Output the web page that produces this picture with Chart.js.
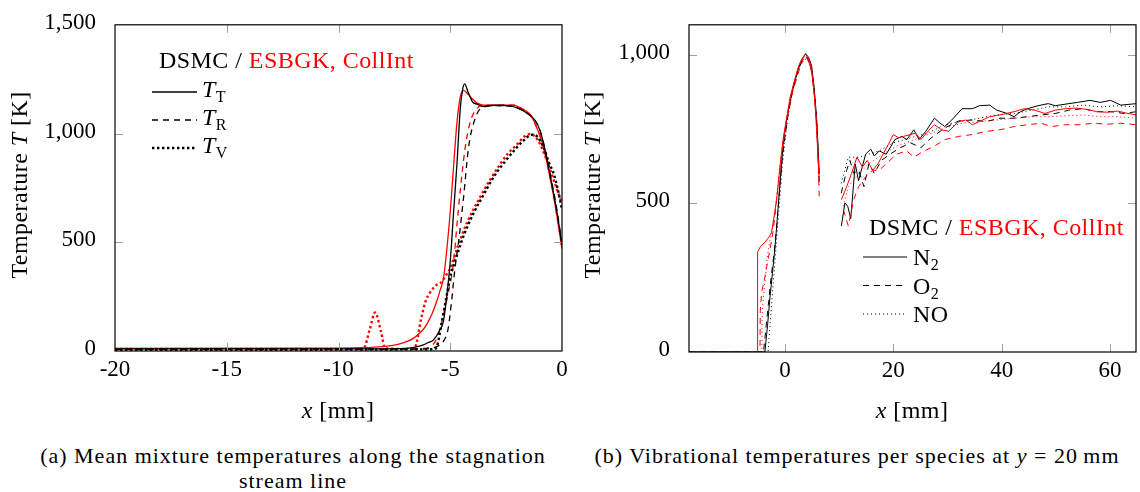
<!DOCTYPE html>
<html>
<head>
<meta charset="utf-8">
<script src="https://cdn.jsdelivr.net/npm/chart.js@4.4.1/dist/chart.umd.min.js"></script>
<style>
  body { margin: 0; background: #fff; width: 1140px; height: 492px; overflow: hidden; position: relative; font-family: "Liberation Serif", serif; }
  #left { position: absolute; left: 0; top: 0; }
  #right { position: absolute; left: 575px; top: 0; }
  .cap { position: absolute; top: 443px; transform: translateX(-50%); font-size: 22px; letter-spacing: 1px; line-height: 25px; text-align: center; white-space: nowrap; color: #000; }
</style>
</head>
<body>
<canvas id="left" width="575" height="430"></canvas>
<canvas id="right" width="565" height="430"></canvas>
<div class="cap" style="left:293px">(a) Mean mixture temperatures along the stagnation<br>stream line</div>
<div class="cap" style="left:857px">(b) Vibrational temperatures per species at <i>y</i> = 20&#8201;mm</div>
<script>
// ---- (a) mean mixture temperatures along the stagnation line ----
const leftXTicks = [-20, -15, -10, -5, 0];
const leftYTicks = [0, 500, 1000, 1500];

const ttDsmcX = [-20, -8, -7, -6.5, -6.2, -6, -5.76, -5.5, -5.3, -5.15, -5, -4.85, -4.7, -4.55, -4.45, -4.36, -4.2, -4, -3.8, -3.58, -3, -2.46, -2, -1.56, -1.2, -0.97, -0.75, -0.52, -0.22, 0];
const ttDsmcY = [10, 10, 12, 19, 28, 38, 50, 90, 140, 260, 410, 640, 860, 1117, 1200, 1228, 1190, 1145, 1135, 1125, 1130, 1128, 1118, 1093, 1060, 1010, 920, 802, 635, 486];
const ttEsX = [-20, -10, -9, -8.5, -7.83, -7.3, -6.9, -6.65, -6.4, -6.2, -6.04, -5.8, -5.6, -5.45, -5.3, -5.15, -5, -4.85, -4.7, -4.55, -4.4, -4.2, -4.03, -3.8, -3.52, -2.8, -2.18, -1.8, -1.42, -1.1, -0.82, -0.6, -0.37, -0.18, 0];
const ttEsY = [12, 13, 15, 17, 22, 32, 45, 58, 80, 100, 125, 175, 230, 280, 335, 470, 640, 850, 1050, 1170, 1198, 1180, 1161, 1140, 1131, 1130, 1131, 1115, 1086, 1020, 936, 830, 710, 590, 470];
const trDsmcX = [-20, -6.2, -5.9, -5.6, -5.3, -5.1, -4.95, -4.8, -4.63, -4.4, -4.18, -3.88, -3.58, -3, -2.46, -2, -1.56, -1.2, -0.97, -0.75, -0.52, -0.22, 0];
const trDsmcY = [8, 9, 12, 20, 45, 100, 220, 370, 500, 710, 937, 1071, 1119, 1128, 1127, 1118, 1093, 1060, 1010, 925, 810, 645, 490];
const trEsX = [-20, -7, -6.3, -5.9, -5.6, -5.37, -5.1, -4.85, -4.7, -4.55, -4.33, -4.1, -3.8, -3.5, -2.8, -2.18, -1.8, -1.42, -1.1, -0.82, -0.6, -0.37, -0.18, 0];
const trEsY = [10, 10, 12, 20, 58, 140, 260, 410, 580, 740, 936, 1055, 1116, 1131, 1130, 1131, 1115, 1086, 1020, 936, 830, 710, 590, 470];
const tvDsmcX = [-20, -5.75, -5.6, -5.4, -5.15, -4.95, -4.7, -4.4, -3.95, -3.5, -3.06, -2.6, -2.16, -1.75, -1.34, -1.1, -0.82, -0.6, -0.37, -0.18, 0];
const tvDsmcY = [5, 8, 20, 120, 260, 360, 440, 530, 635, 720, 800, 865, 920, 965, 995, 985, 935, 870, 815, 740, 650];
const tvEsX = [-20, -9.2, -8.88, -8.6, -8.36, -8.1, -7.91, -7.5, -6.9, -6.57, -6.3, -6.1, -5.9, -5.75, -5.6, -5.45, -5.3, -5.15, -5, -4.7, -4.25, -3.65, -3.2, -2.76, -2.4, -2.01, -1.7, -1.42, -1.2, -0.97, -0.75, -0.52, -0.25, 0];
const tvEsY = [10, 10, 12, 100, 177, 90, 12, 10, 10, 20, 150, 230, 270, 290, 305, 312, 330, 355, 380, 470, 590, 710, 790, 860, 910, 950, 985, 998, 985, 950, 895, 830, 750, 680];

// ---- (b) vibrational temperatures per species at y = 20 mm ----
const rightXTicks = [0, 20, 40, 60];
const rightYTicks = [0, 500, 1000];

const n2DsmcX = [-17.7, -3.7, -3.2, -2.77, -2.3, -1.85, -1.4, -0.92, -0.31, 0.3, 0.92, 1.7, 2.46, 3.2, 3.82, 4.4, 4.93, 5.4, 5.85, 6.1, 6.34, 8, 10.43, 11.07, 11.6, 12.15, 12.98, 13.6, 14.9, 15.84, 16.5, 17.4, 18.7, 20.3, 21.6, 22.5, 23.8, 24.76, 26, 27.6, 28.6, 29.5, 30.8, 32.7, 34.6, 35.9, 37.8, 39.1, 41, 42.3, 43.5, 44.8, 46.7, 48.6, 49.9, 52.4, 54, 56.3, 58.2, 60.1, 62, 64.9];
const n2DsmcY = [0, 0, 90, 182, 265, 347, 450, 567, 698, 780, 841, 900, 950, 985, 1003, 990, 962, 890, 786, 700, 599, null, 424, 501, 490, 448, 632, 576, 665, 682, 659, 676, 665, 714, 725, 714, 747, 714, 742, 786, 770, 758, 780, 818, 818, 828, 830, 813, 802, 791, 808, 818, 828, 835, 828, 835, 839, 846, 839, 846, 830, 835];
const n2EsX = [-17.7, -5.05, -5.04, -4.5, -3.69, -3, -2.46, -2, -1.53, -0.92, -0.3, 0.31, 1, 1.85, 2.5, 3.08, 3.82, 4.4, 4.93, 5.3, 5.54, 5.9, 6.34, 8, 10.43, 11.4, 12.3, 13.3, 14.3, 15.2, 16.2, 17.2, 18.1, 19.1, 20, 21, 21.9, 23.2, 24.1, 25.1, 26.4, 27.6, 28.9, 30.2, 32.1, 33.4, 34.6, 35.9, 37.8, 39.7, 42.3, 44.2, 46.1, 48, 49.9, 51.8, 53.7, 55.6, 57.5, 59.5, 61.4, 63.3, 64.9];
const n2EsY = [0, 0, 336, 355, 369, 385, 402, 455, 512, 622, 720, 786, 860, 918, 960, 984, 1003, 985, 950, 890, 841, 730, 577, null, 512, 556, 600, 655, 622, 644, 611, 633, 665, 698, 731, 720, 725, 731, 736, 714, 742, 764, 747, 742, 775, 780, 764, 775, 791, 797, 808, 818, 813, 802, 813, 818, 820, 816, 808, 806, 810, 802, 797];
const o2DsmcX = [-17.7, -3.95, -3.5, -3, -2.5, -2, -1.53, -1, -0.5, 0, 0.6, 1.2, 2, 2.8, 3.5, 4, 4.5, 5, 5.5, 5.9, 6.34, 8, 10.4, 11.4, 12, 12.7, 13.6, 14.6, 15.5, 16.5, 17.8, 19.4, 21.3, 23.2, 25.1, 27, 29.5, 32.1, 34.6, 37.2, 39.7, 42.3, 44.8, 47.3, 49.9, 52.4, 55, 57.5, 60.1, 62.6, 64.9];
const o2DsmcY = [0, 0, 80, 170, 260, 330, 420, 540, 650, 720, 800, 860, 920, 965, 985, 992, 975, 940, 860, 760, 560, null, 534, 611, 644, 600, 611, 556, 633, 600, 644, 665, 687, 703, 687, 720, 753, 777, 780, 775, 786, 786, 791, 797, 802, 813, 818, 808, 808, 802, 808];
const o2EsX = [-17.7, -4.6, -4.55, -4.3, -4, -3.6, -3.3, -2.8, -2.2, -1.7, -1.23, -0.75, -0.31, 0.3, 0.92, 1.5, 2.15, 2.8, 3.38, 4, 4.5, 4.93, 5.4, 5.85, 6.1, 6.34, 8, 10.8, 11.7, 12.7, 13.6, 14.9, 16.2, 17.4, 18.7, 20.6, 22.5, 23.8, 25.7, 27.6, 29.5, 32.1, 34.6, 37.2, 39.7, 42.3, 44.8, 47.3, 49.2, 51.8, 54.3, 56.9, 59.5, 62, 64.9];
const o2EsY = [0, 0, 136, 200, 226, 260, 292, 340, 402, 480, 567, 640, 709, 775, 830, 880, 918, 958, 984, 990, 970, 940, 870, 775, 660, 523, null, 478, 424, 512, 556, 589, 611, 611, 633, 665, 676, 655, 676, 692, 714, 725, 731, 742, 747, 758, 764, 769, 758, 764, 764, 769, 766, 769, 764];
const noDsmcX = [-17.7, -3.1, -2.7, -2.3, -1.85, -1.4, -0.92, -0.4, 0.2, 0.8, 1.5, 2.3, 3, 3.7, 4.3, 4.9, 5.4, 5.85, 6.34, 8, 10.4, 11.7, 13.6, 15.5, 17.4, 20, 23.2, 26.4, 29.5, 32.7, 35.9, 39.1, 42.3, 45.5, 48.6, 51.8, 55, 58.2, 61.4, 64.9];
const noDsmcY = [0, 0, 100, 200, 300, 410, 520, 640, 740, 820, 890, 940, 970, 985, 980, 950, 880, 780, 590, null, 567, 655, 655, 665, 676, 703, 720, 736, 764, 775, 786, 797, 802, 813, 824, 824, 830, 824, 828, 824];
const noEsX = [-17.7, -4.25, -4.2, -4, -3.6, -3.3, -2.8, -2.3, -1.8, -1.3, -0.8, -0.3, 0.3, 0.9, 1.6, 2.3, 3, 3.7, 4.3, 4.9, 5.4, 5.85, 6.34, 8, 10.8, 11.7, 13.6, 15.5, 18.1, 20.6, 23.2, 26.4, 29.5, 32.7, 35.9, 39.1, 42.3, 45.5, 48.6, 51.8, 55, 58.2, 61.4, 64.9];
const noEsY = [0, 0, 120, 182, 250, 314, 370, 420, 480, 560, 640, 710, 780, 840, 900, 945, 975, 995, 980, 945, 870, 770, 560, null, 490, 556, 600, 633, 665, 692, 709, 731, 753, 769, 775, 780, 786, 791, 791, 794, 797, 791, 791, 786];

const RED = "#ff0000";
const SERIF = '"Liberation Serif", "DejaVu Serif", serif';
const font = (size, style) => (style ? style + " " : "") + size + "px " + SERIF;

function pts(xs, ys) {
  return xs.map((x, i) => ({ x: x, y: ys[i] }));
}

function fmt(v) {
  return Math.abs(v) >= 1000 ? v.toLocaleString("en-US") : String(v);
}

// draw a run of text pieces: [text, font, colour, baseline shift]
function drawRich(ctx, parts, x, y, align) {
  ctx.letterSpacing = "0.45px";
  let w = 0;
  parts.forEach(p => { ctx.font = p[1]; w += ctx.measureText(p[0]).width; });
  let cx = align === "center" ? x - w / 2 : x;
  ctx.textAlign = "left";
  ctx.textBaseline = "alphabetic";
  parts.forEach(p => {
    ctx.font = p[1];
    ctx.fillStyle = p[2] || "#000";
    ctx.fillText(p[0], cx, y + (p[3] || 0));
    cx += ctx.measureText(p[0]).width;
  });
  ctx.letterSpacing = "0px";
}

// pgfplots-like frame, inward ticks, axis titles and legend
const decor = {
  id: "decor",
  afterDraw(chart, args, o) {
    const ctx = chart.ctx;
    const a = chart.chartArea;
    const xs = chart.scales.x, ys = chart.scales.y;
    ctx.save();
    ctx.strokeStyle = "#a0a0a0";
    ctx.lineWidth = 1;
    ctx.beginPath();
    xs.ticks.forEach(t => {
      const p = Math.round(xs.getPixelForValue(t.value)) + 0.5;
      if (p < a.left + 2 || p > a.right - 2) return;
      ctx.moveTo(p, a.bottom); ctx.lineTo(p, a.bottom - 8);
      ctx.moveTo(p, a.top); ctx.lineTo(p, a.top + 8);
    });
    ys.ticks.forEach(t => {
      const p = Math.round(ys.getPixelForValue(t.value)) + 0.5;
      if (p < a.top + 2 || p > a.bottom - 2) return;
      ctx.moveTo(a.left, p); ctx.lineTo(a.left + 8, p);
      ctx.moveTo(a.right, p); ctx.lineTo(a.right - 8, p);
    });
    ctx.stroke();
    ctx.strokeStyle = "#000";
    ctx.lineWidth = 1.2;
    ctx.strokeRect(a.left, a.top, a.right - a.left, a.bottom - a.top);

    drawRich(ctx, o.xTitle, o.xTitleAt[0], o.xTitleAt[1], "center");
    ctx.save();
    ctx.translate(o.yTitleAt[0], o.yTitleAt[1]);
    ctx.rotate(-Math.PI / 2);
    drawRich(ctx, o.yTitle, 0, 0, "center");
    ctx.restore();

    const L = o.legend;
    drawRich(ctx, L.header, L.x, L.headerY, "left");
    L.rows.forEach((r, i) => {
      const ly = L.lineY + i * L.step;
      ctx.beginPath();
      ctx.setLineDash(r.dash);
      ctx.lineWidth = r.width;
      ctx.strokeStyle = "#000";
      ctx.moveTo(L.x0, ly);
      ctx.lineTo(L.x1, ly);
      ctx.stroke();
      ctx.setLineDash([]);
      drawRich(ctx, r.label, L.textX, ly + L.textDy, "left");
    });
    ctx.restore();
  }
};

const tickFont = { family: SERIF, size: 23 };
const header = [["DSMC / ", font(24)], ["ESBGK, CollInt", font(24), RED]];
const yTitle = [["Temperature ", font(24)], ["T", font(24, "italic")], [" [K]", font(24)]];
const xTitle = [["x", font(24, "italic")], [" [mm]", font(24)]];

function line(label, xs, ys, color, width, dash, smooth) {
  return {
    label: label,
    data: pts(xs, ys),
    borderColor: color,
    borderWidth: width,
    borderDash: dash,
    pointRadius: 0,
    fill: false,
    spanGaps: false,
    cubicInterpolationMode: smooth ? "monotone" : "default",
    tension: 0
  };
}

function axes(xmin, xmax, ymin, ymax, xTicks, yTicks, yWidth, xHeight) {
  return {
    x: {
      type: "linear", min: xmin, max: xmax,
      afterBuildTicks: s => { s.ticks = xTicks.map(v => ({ value: v })); },
      afterFit: s => { s.height = xHeight; },
      grid: { display: false }, border: { display: false },
      ticks: { font: tickFont, color: "#000", padding: -3, maxRotation: 0, autoSkip: false, callback: v => fmt(v) }
    },
    y: {
      type: "linear", min: ymin, max: ymax,
      afterBuildTicks: s => { s.ticks = yTicks.map(v => ({ value: v })); },
      afterFit: s => { s.width = yWidth; },
      grid: { display: false }, border: { display: false },
      ticks: { font: tickFont, color: "#000", padding: 11, labelOffset: -2, autoSkip: false, callback: v => fmt(v) }
    }
  };
}

new Chart(document.getElementById("left"), {
  type: "line",
  data: {
    datasets: [
      line("DSMC T_T", ttDsmcX, ttDsmcY, "#000", 1.3, [], true),
      line("DSMC T_R", trDsmcX, trDsmcY, "#000", 1.3, [6, 5], true),
      line("DSMC T_V", tvDsmcX, tvDsmcY, "#000", 2.4, [2.4, 2.6], true),
      line("ESBGK T_T", ttEsX, ttEsY, RED, 1.3, [], true),
      line("ESBGK T_R", trEsX, trEsY, RED, 1.3, [6, 5], true),
      line("ESBGK T_V", tvEsX, tvEsY, RED, 2.4, [2.4, 2.6], true)
    ]
  },
  options: {
    responsive: false, animation: false, events: [],
    layout: { padding: { top: 18, right: 13, left: 0, bottom: 0 } },
    scales: axes(-20, 0, 0, 1500, leftXTicks, leftYTicks, 115, 79),
    plugins: {
      legend: { display: false }, tooltip: { enabled: false },
      decor: {
        xTitle: xTitle, xTitleAt: [338, 418],
        yTitle: yTitle, yTitleAt: [27, 185],
        legend: {
          header: header, x: 159, headerY: 68,
          x0: 152, x1: 197, textX: 202, lineY: 92, step: 28, textDy: 5,
          rows: [
            { label: [["T", font(24, "italic")], ["T", font(16), "#000", 5]], dash: [], width: 1.3 },
            { label: [["T", font(24, "italic")], ["R", font(16), "#000", 5]], dash: [6, 5], width: 1.3 },
            { label: [["T", font(24, "italic")], ["V", font(16), "#000", 5]], dash: [2.4, 2.6], width: 2.4 }
          ]
        }
      }
    }
  },
  plugins: [decor]
});

new Chart(document.getElementById("right"), {
  type: "line",
  data: {
    datasets: [
      line("ESBGK N2", n2EsX, n2EsY, RED, 1, [], false),
      line("ESBGK O2", o2EsX, o2EsY, RED, 1, [6, 5], false),
      line("ESBGK NO", noEsX, noEsY, RED, 1, [1, 3], false),
      line("DSMC N2", n2DsmcX, n2DsmcY, "#000", 1, [], false),
      line("DSMC O2", o2DsmcX, o2DsmcY, "#000", 1, [6, 5], false),
      line("DSMC NO", noDsmcX, noDsmcY, "#000", 1, [1, 3], false)
    ]
  },
  options: {
    responsive: false, animation: false, events: [],
    layout: { padding: { top: 18, right: 4, left: 0, bottom: 0 } },
    scales: axes(-17.7, 64.8, 0, 1100, rightXTicks, rightYTicks, 114, 78),
    plugins: {
      legend: { display: false }, tooltip: { enabled: false },
      decor: {
        xTitle: xTitle, xTitleAt: [337, 418],
        yTitle: yTitle, yTitleAt: [25, 185],
        legend: {
          header: header, x: 294, headerY: 235,
          x0: 288, x1: 332, textX: 338, lineY: 257, step: 28.5, textDy: 8,
          rows: [
            { label: [["N", font(24)], ["2", font(16), "#000", 5]], dash: [], width: 1 },
            { label: [["O", font(24)], ["2", font(16), "#000", 5]], dash: [6, 5], width: 1 },
            { label: [["NO", font(24)]], dash: [1, 3], width: 1 }
          ]
        }
      }
    }
  },
  plugins: [decor]
});
</script>
</body>
</html>
